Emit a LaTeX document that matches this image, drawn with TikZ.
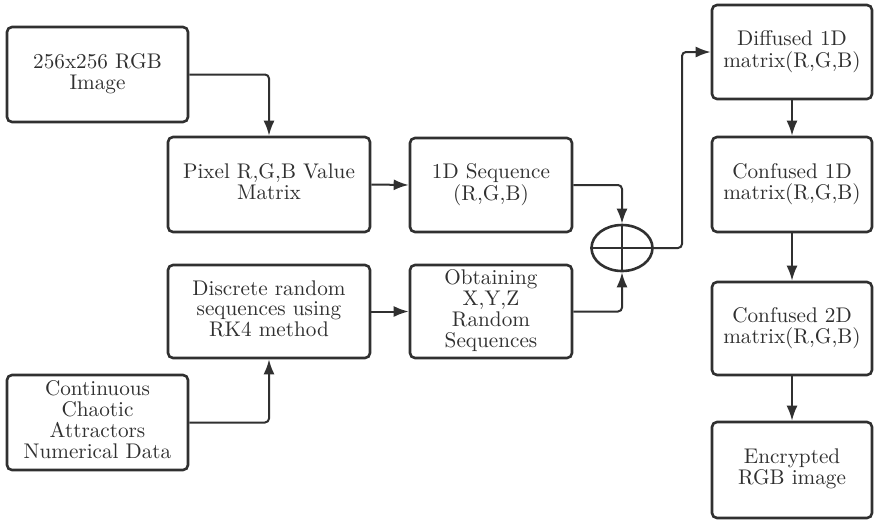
\documentclass[tikz,border=0pt]{standalone}
\usepackage{graphicx}
\usetikzlibrary{arrows.meta,shapes.geometric}
\definecolor{ink}{HTML}{303030}
% box labels: text set at 10pt and enlarged, keeping the 10pt design size
\newcommand{\lbl}[1]{\scalebox{2.12}{\fontsize{10}{9.45}\selectfont
  \renewcommand{\arraystretch}{1}\begin{tabular}{@{}c@{}}#1\end{tabular}}}
\begin{document}
\begin{tikzpicture}[x=1pt,y=-1pt,
  box/.style={draw=ink,line width=2.6pt,rounded corners=5pt,align=center,
    inner sep=0pt,text=ink},
  conn/.style={draw=ink,line width=2pt,rounded corners=4pt,
    -{Latex[length=15pt,width=11pt]}}]
\useasboundingbox (0,0) rectangle (874,520);

% left input boxes
\node[box,minimum width=181pt,minimum height=95pt] (img) at (97.5,74.5) {\lbl{256x256 RGB\\Image}};
\node[box,minimum width=181pt,minimum height=95pt] (cca) at (97.5,422.5) {\lbl{Continuous\\Chaotic\\Attractors\\Numerical Data}};

% processing boxes
\node[box,minimum width=202pt,minimum height=95pt] (pix) at (269,184.5) {\lbl{Pixel R,G,B Value\\Matrix}};
\node[box,minimum width=202pt,minimum height=93pt] (rk4) at (269,311.5) {\lbl{Discrete random\\sequences using\\RK4 method}};
\node[box,minimum width=162pt,minimum height=94pt] (seq) at (491,185) {\lbl{1D Sequence\\(R,G,B)}};
\node[box,minimum width=162pt,minimum height=93pt] (xyz) at (491,311.5) {\lbl{Obtaining\\X,Y,Z\\Random\\Sequences}};

% XOR operator
\node[draw=ink,line width=2.6pt,ellipse,minimum width=61pt,minimum height=46pt,inner sep=0pt] (xor) at (622,248) {};
\draw[ink,line width=2.6pt] (xor.north) -- (xor.south) (xor.west) -- (xor.east);

% output column
\node[box,minimum width=160pt,minimum height=94pt] (dif) at (792,52) {\lbl{Diffused 1D\\matrix(R,G,B)}};
\node[box,minimum width=160pt,minimum height=95pt] (c1d) at (792,184.5) {\lbl{Confused 1D\\matrix(R,G,B)}};
\node[box,minimum width=160pt,minimum height=93pt] (c2d) at (792,328.5) {\lbl{Confused 2D\\matrix(R,G,B)}};
\node[box,minimum width=160pt,minimum height=96pt] (enc) at (792,470) {\lbl{Encrypted\\RGB image}};

\coordinate (bend) at (682,248);

% connectors
\draw[conn] (img.east) -| (pix.north);
\draw[conn] (cca.east) -| (rk4.south);
\draw[conn] (pix.east) -- (seq.west);
\draw[conn] (rk4.east) -- (xyz.west);
\draw[conn] (seq.east) -| (xor.north);
\draw[conn] (xyz.east) -| (xor.south);
\draw[conn] (xor.east) -- (bend) |- (dif.west);
\draw[conn] (dif.south) -- (c1d.north);
\draw[conn] (c1d.south) -- (c2d.north);
\draw[conn] (c2d.south) -- (enc.north);
\end{tikzpicture}
\end{document}
